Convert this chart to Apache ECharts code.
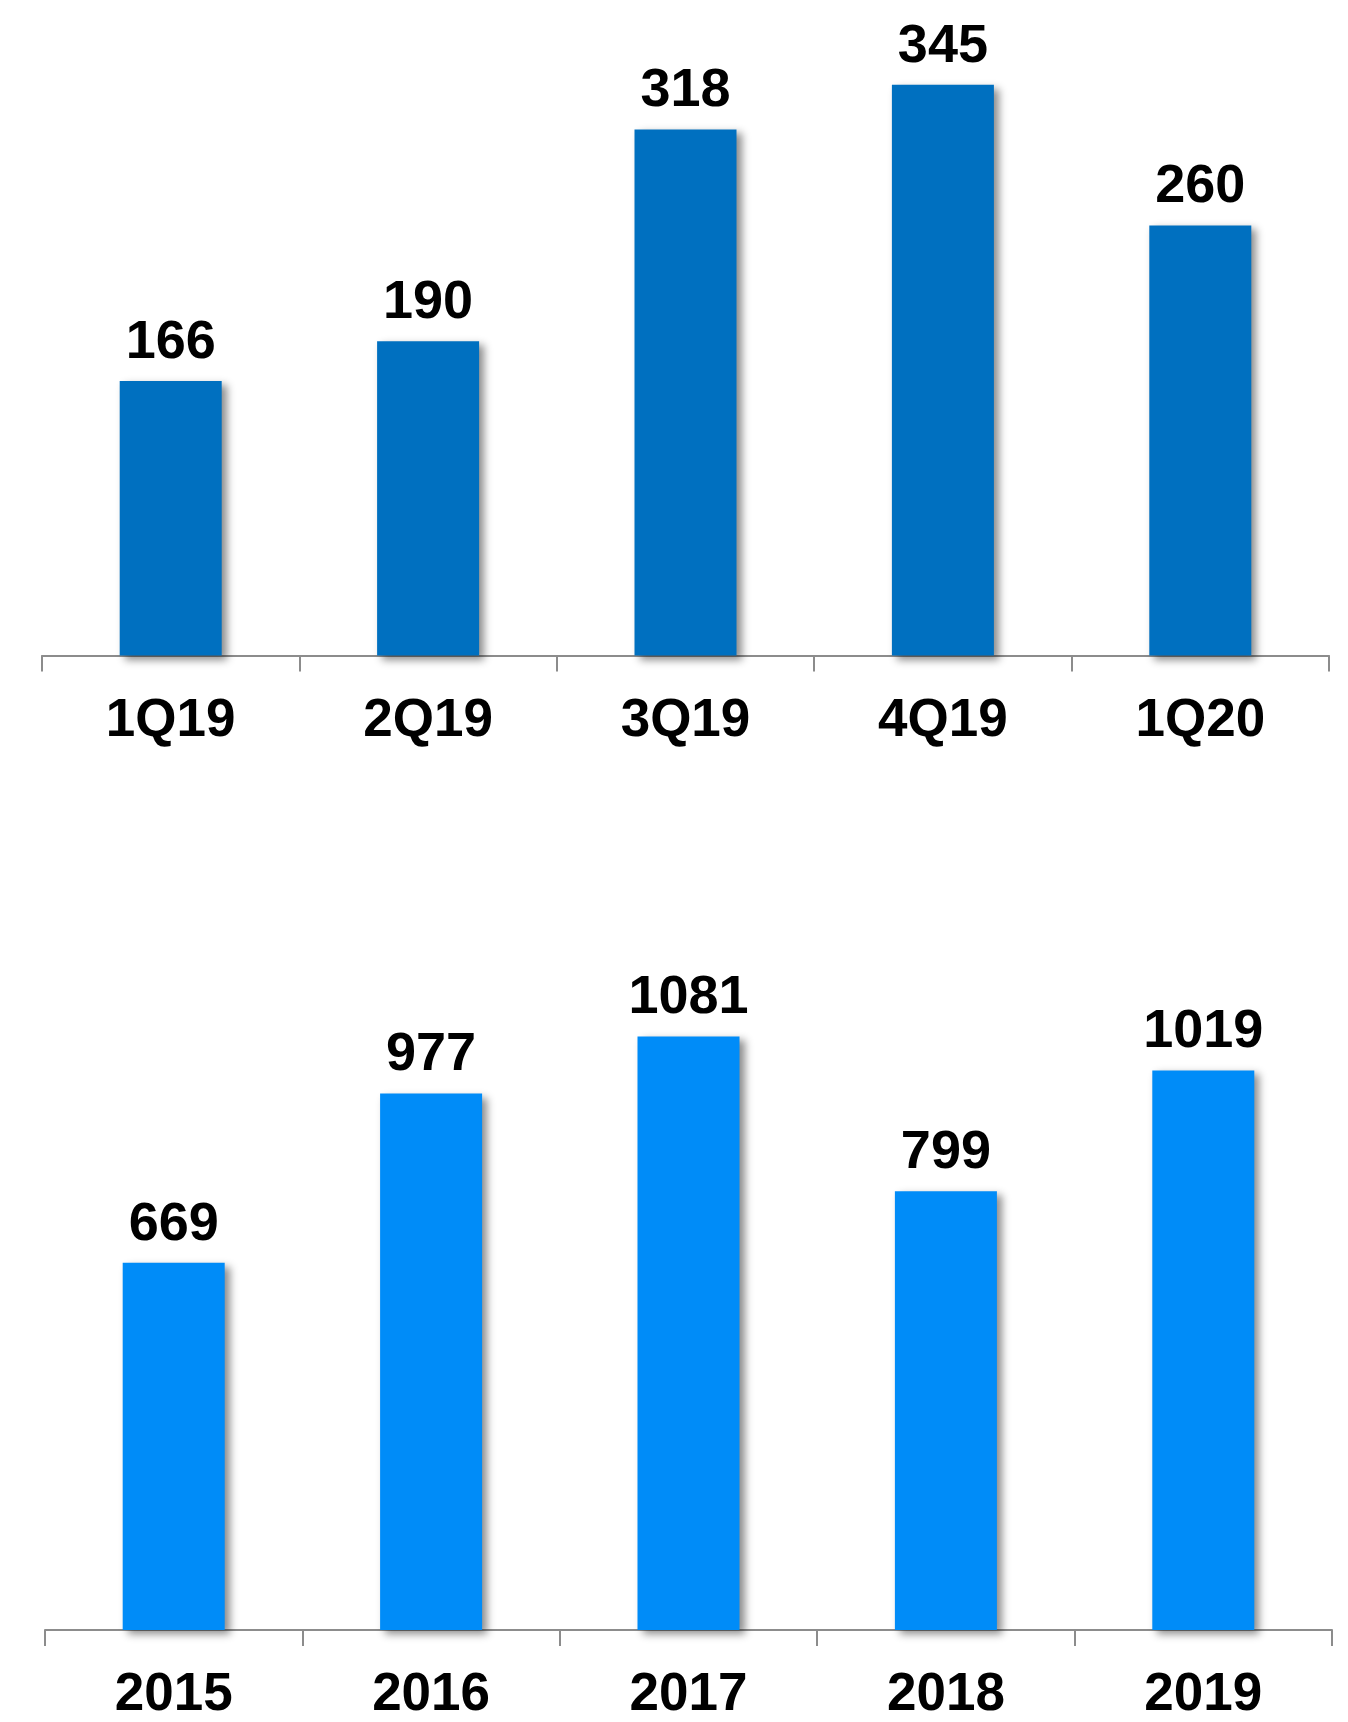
<!DOCTYPE html>
<html>
<head>
<meta charset="utf-8">
<script src="https://cdn.jsdelivr.net/npm/echarts@6/dist/echarts.min.js"></script>
<style>
html,body{margin:0;padding:0;background:#fff;}
#c{width:1348px;height:1722px;}
</style>
</head>
<body>
<div id="c"></div>
<script>
const quarterCategories = ['1Q19', '2Q19', '3Q19', '4Q19', '1Q20'];
const quarterValues = [166, 190, 318, 345, 260];
const yearCategories = ['2015', '2016', '2017', '2018', '2019'];
const yearValues = [669, 977, 1081, 799, 1019];

const FONT = '"Liberation Sans", Arial, Helvetica, sans-serif';

function xAxisFor(idx, cats) {
  return {
    type: 'category', gridIndex: idx, data: cats,
    axisLine: { lineStyle: { color: '#8c8c8c', width: 2 } },
    axisTick: { show: true, length: 16, lineStyle: { color: '#8c8c8c', width: 2 } },
    axisLabel: { color: '#000', fontFamily: FONT, fontWeight: 'bold', fontSize: 53, margin: 39 }
  };
}
function yAxisFor(idx, max) {
  return {
    type: 'value', gridIndex: idx, min: 0, max: max,
    show: false, splitLine: { show: false }
  };
}
function barFor(idx, vals, color) {
  return {
    type: 'bar', xAxisIndex: idx, yAxisIndex: idx, data: vals, barWidth: 102,
    itemStyle: {
      color: color,
      shadowColor: 'rgba(0,0,0,0.45)', shadowBlur: 8, shadowOffsetX: 5, shadowOffsetY: 4
    },
    label: {
      show: true, position: 'top', distance: 11,
      color: '#000', fontFamily: FONT, fontWeight: 'bold', fontSize: 54
    },
    z: 1
  };
}

const chart = echarts.init(document.getElementById('c'), null, { renderer: 'canvas' });
chart.setOption({
  animation: false,
  backgroundColor: '#fff',
  grid: [
    { left: 42, right: 19, top: 60, height: 595.5 },
    { left: 45, right: 16, top: 1026, height: 607 }
  ],
  xAxis: [xAxisFor(0, quarterCategories), xAxisFor(1, yearCategories)],
  yAxis: [yAxisFor(0, 360), yAxisFor(1, 1100)],
  series: [
    barFor(0, quarterValues, '#0070C0'),
    barFor(1, yearValues, '#008CF8')
  ]
});
</script>
</body>
</html>
